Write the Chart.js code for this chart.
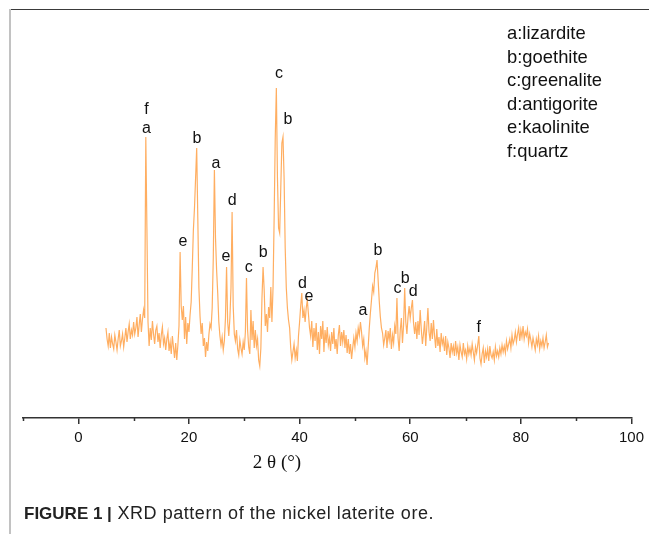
<!DOCTYPE html>
<html>
<head>
<meta charset="utf-8">
<script src="https://cdn.jsdelivr.net/npm/chart.js@4.4.0/dist/chart.umd.min.js"></script>
<style>
  body { margin: 0; background: #fff; font-family: "Liberation Sans", Arial, sans-serif; }
  #page { position: relative; width: 649px; height: 534px; overflow: hidden; }
  #frameTop { position: absolute; left: 9px; top: 9px; width: 640px; height: 1px; background: #3a3a3a; }
  #frameLeft { position: absolute; left: 9px; top: 9px; width: 2px; height: 525px; background: #c2c2c2; }
  #myChart { position: absolute; left: 0; top: 0; }
  #legend { position: absolute; left: 507px; top: 21px; font-size: 18.4px; line-height: 23.6px; color: #111; }
  #xtitle { position: absolute; left: 227px; width: 100px; top: 451px; text-align: center;
            font-family: "Liberation Serif", "Times New Roman", serif; font-size: 19px; color: #111; }
  #caption { position: absolute; left: 24px; top: 503px; font-size: 17px; color: #222; white-space: nowrap; }
  #caption b { font-weight: bold; }
  #caption span { font-size: 18px; letter-spacing: 0.55px; }
</style>
</head>
<body>
<div id="page">
  <div id="frameTop"></div>
  <div id="frameLeft"></div>
  <canvas id="myChart" width="649" height="534"></canvas>
  <div id="legend"></div>
  <div id="xtitle">2 θ (°)</div>
  <div id="caption"><b>FIGURE 1 |</b><span> XRD pattern of the nickel laterite ore.</span></div>
</div>
<script>
// scan from 5 to 85 deg, 0.2 deg step
let startAngle = 5;
let stepAngle = 0.2;
let intensity = [
  90, 79, 72, 85, 70,   // 5
  81, 74, 69, 83, 76,   // 6
  68, 79, 88, 72, 77,   // 7
  84, 71, 80, 90, 76,   // 8
  86, 94, 79, 88, 83,   // 9
  96, 84, 90, 101, 81,  // 10
  93, 104, 86, 99, 108, // 11
  100, 281, 190, 96, 72, // 12
  90, 78, 97, 84, 74,   // 13
  88, 92, 76, 85, 70,   // 14
  83, 91, 74, 80, 68,   // 15
  79, 86, 67, 76, 64,   // 16
  82, 71, 60, 75, 58,   // 17
  73, 92, 166, 112, 98, // 18
  112, 79, 101, 74, 95, // 19
  86, 103, 116, 150, 188, // 20
  210, 240, 270, 200, 130, // 21
  102, 84, 95, 72, 80,  // 22
  61, 76, 67, 83, 94,   // 23
  90, 110, 160, 248, 180, // 24
  148, 125, 96, 82, 73, // 25
  81, 68, 77, 100, 151, // 26
  96, 82, 100, 130, 206, // 27
  112, 84, 77, 88, 69,  // 28
  63, 78, 70, 64, 76,   // 29
  68, 86, 140, 88, 71,  // 30
  64, 108, 78, 97, 70,  // 31
  88, 72, 79, 58, 52,   // 32
  70, 120, 151, 128, 92, // 33
  104, 86, 111, 100, 131, // 34
  96, 130, 200, 280, 330, // 35
  240, 190, 185, 230, 275, // 36
  281, 240, 170, 130, 110, // 37
  98, 90, 70, 58, 66,   // 38
  74, 60, 68, 57, 82,   // 39
  96, 112, 125, 100, 108, // 40
  96, 110, 118, 104, 90, // 41
  82, 97, 71, 90, 77,   // 42
  95, 68, 86, 64, 92,   // 43
  79, 97, 66, 88, 75,   // 44
  91, 73, 80, 67, 86,   // 45
  74, 90, 69, 79, 64,   // 46
  83, 93, 72, 86, 76,   // 47
  88, 70, 83, 65, 79,   // 48
  64, 74, 59, 70, 80,   // 49
  71, 85, 77, 90, 83,   // 50
  96, 86, 72, 79, 60,   // 51
  67, 53, 71, 90, 105,  // 52
  118, 132, 126, 145, 150, // 53
  158, 138, 117, 101, 90, // 54
  85, 73, 80, 88, 70,   // 55
  87, 78, 90, 69, 83,   // 56
  75, 92, 84, 120, 80,  // 57
  67, 88, 100, 75, 93,  // 58
  130, 96, 84, 101, 112, // 59
  100, 110, 118, 95, 84, // 60
  96, 79, 97, 83, 108,  // 61
  89, 74, 84, 97, 72,   // 62
  91, 110, 86, 77, 95,  // 63
  79, 98, 82, 70, 89,   // 64
  72, 81, 66, 85, 74,   // 65
  79, 67, 82, 63, 76,   // 66
  70, 60, 75, 66, 72,   // 67
  62, 77, 65, 71, 58,   // 68
  73, 66, 61, 75, 64,   // 69
  68, 59, 72, 64, 70,   // 70
  63, 74, 66, 58, 71,   // 71
  65, 73, 82, 60, 54,   // 72
  64, 70, 55, 67, 61,   // 73
  69, 57, 72, 63, 60,   // 74
  66, 58, 71, 62, 67,   // 75
  61, 70, 64, 73, 66,   // 76
  72, 65, 77, 69, 74,   // 77
  79, 70, 83, 74, 78,   // 78
  86, 76, 84, 90, 77,   // 79
  88, 81, 92, 79, 86,   // 80
  82, 89, 75, 84, 78,   // 81
  71, 80, 74, 68, 79,   // 82
  73, 82, 69, 77, 72,   // 83
  80, 70, 76, 83, 71,   // 84
  75                    // 85
];

// phase letters written over the peaks
let peakLetters = ['f', 'a', 'e', 'b', 'a', 'e', 'd', 'c', 'b', 'c', 'b', 'd', 'e', 'a', 'b', 'c', 'b', 'd', 'f'];
let peakAngles  = [12.3, 12.3, 18.9, 21.45, 24.9, 26.7, 27.8, 30.8, 33.4, 36.3, 37.9, 40.5, 41.7, 51.45, 54.15, 57.7, 59.1, 60.55, 72.4];
let peakLevels  = [308, 289, 176, 279, 254, 161, 217, 150, 165, 344, 298, 134, 121, 107, 167, 129, 139, 126, 90];

let phaseNames = ['a:lizardite', 'b:goethite', 'c:greenalite', 'd:antigorite', 'e:kaolinite', 'f:quartz'];

let xTicks = [0, 20, 40, 60, 80, 100];

document.getElementById('legend').innerHTML = phaseNames.join('<br>');

let points = [];
for (let i = 0; i < intensity.length; i++) {
  points.push({ x: +(startAngle + i * stepAngle).toFixed(1), y: intensity[i] });
}

// short minor ticks at the odd tens
const minorTicks = {
  id: 'minorTicks',
  afterDraw(chart) {
    let ctx = chart.ctx;
    let xs = chart.scales.x;
    ctx.save();
    ctx.strokeStyle = '#333';
    ctx.lineWidth = 1.5;
    for (let v = xs.min; v <= xs.max; v += 10) {
      if (xTicks.indexOf(v) >= 0) continue;
      let px = Math.round(xs.getPixelForValue(v)) + 0.5;
      ctx.beginPath();
      ctx.moveTo(px, chart.chartArea.bottom);
      ctx.lineTo(px, chart.chartArea.bottom + 3);
      ctx.stroke();
    }
    ctx.restore();
  }
};

const peakText = {
  id: 'peakText',
  afterDatasetsDraw(chart) {
    let ctx = chart.ctx;
    let xs = chart.scales.x;
    let ys = chart.scales.y;
    ctx.save();
    ctx.fillStyle = '#111';
    ctx.font = '16px "Liberation Sans", Arial, sans-serif';
    ctx.textAlign = 'center';
    ctx.textBaseline = 'middle';
    for (let i = 0; i < peakLetters.length; i++) {
      ctx.fillText(peakLetters[i], xs.getPixelForValue(peakAngles[i]), ys.getPixelForValue(peakLevels[i]));
    }
    ctx.restore();
  }
};

var myChart = document.getElementById('myChart').getContext('2d');

var xrdChart = new Chart(myChart, {
  type: 'line',
  data: {
    datasets: [{
      label: 'XRD',
      data: points,
      borderColor: 'rgba(255,165,80,0.9)',
      borderWidth: 1.2,
      pointRadius: 0,
      tension: 0
    }]
  },
  options: {
    responsive: false,
    animation: false,
    layout: { padding: { left: 23, right: 14, top: 10, bottom: 0 } },
    plugins: {
      legend: { display: false },
      tooltip: { enabled: false }
    },
    scales: {
      x: {
        type: 'linear',
        min: -10,
        max: 100,
        afterFit: function(scale) { scale.height = 116; },
        border: { display: true, color: '#333', width: 1.5 },
        grid: {
          drawOnChartArea: false,
          drawTicks: true,
          tickLength: 6,
          lineWidth: 1.5,
          tickColor: function(c) {
            return (c.tick && xTicks.indexOf(c.tick.value) >= 0) ? '#333' : 'rgba(0,0,0,0)';
          }
        },
        ticks: {
          stepSize: 10,
          autoSkip: false,
          maxRotation: 0,
          padding: 5,
          color: '#111',
          font: { family: '"Liberation Sans", Arial, sans-serif', size: 15 },
          callback: function(v) { return xTicks.indexOf(v) >= 0 ? String(v) : ''; }
        }
      },
      y: {
        display: false,
        min: 0,
        max: 408
      }
    }
  },
  plugins: [minorTicks, peakText]
});
</script>
</body>
</html>
